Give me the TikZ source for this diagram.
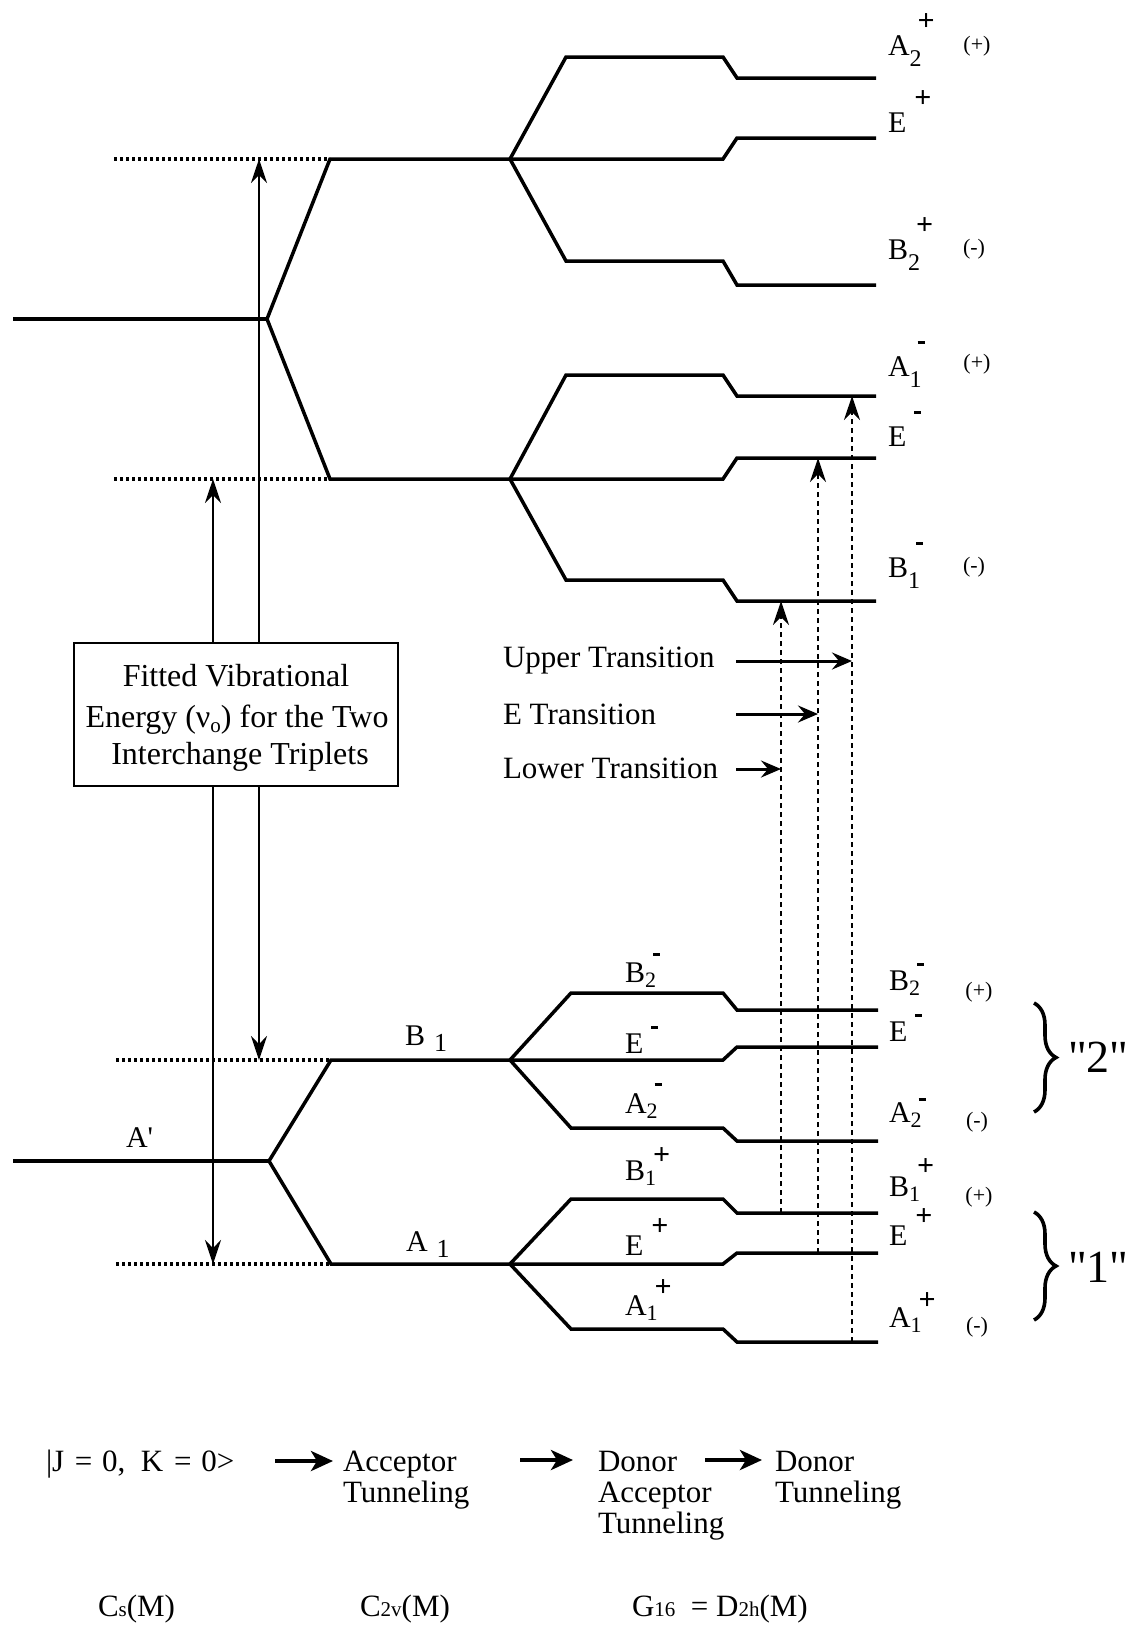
\documentclass[tikz,border=0pt]{standalone}
\usepackage{fontspec}
\setmainfont{Liberation Serif}[Ligatures=TeXOff]
\usetikzlibrary{arrows.meta,decorations.pathreplacing}
\newcommand{\lvT}[3]{#1\rlap{\raisebox{-11pt}{\fontsize{24}{24}\selectfont #2}}\hspace{8pt}#3}
\newcommand{\lvB}[3]{#1\rlap{\raisebox{-5pt}{\fontsize{22}{22}\selectfont #2}}\hspace{8pt}#3}
\newcommand{\upP}[1][19pt]{\raisebox{#1}{\textbf{+}}}
\newcommand{\upM}[1][24pt]{\rule[#1]{7pt}{2.8pt}}
\newcommand{\smx}[1]{{\fontsize{21}{21}\selectfont #1}}
\begin{document}
\begin{tikzpicture}[x=1pt,y=-1pt,
  every node/.style={inner sep=0pt,outer sep=0pt,font=\fontsize{30}{30}\selectfont},
  lvl/.style={line width=3.5pt},
  dots/.style={line width=3.5pt,dash pattern=on 3pt off 3pt},
  meas/.style={line width=1.5pt,{Stealth[length=24pt,width=16pt,inset=8pt]}-{Stealth[length=24pt,width=16pt,inset=8pt]}},
  trans/.style={line width=1.8pt,dash pattern=on 5.5pt off 3.5pt,-{Stealth[length=24pt,width=16pt,inset=8pt]}},
  ptr/.style={line width=3pt,-{Stealth[length=20pt,width=17pt,inset=7pt]}},
  flow/.style={line width=4pt,-{Stealth[length=22pt,width=20pt,inset=6pt]}},
  par/.style={font=\fontsize{22}{22}\selectfont,anchor=center},
  lab/.style={anchor=base west},
  big/.style={font=\fontsize{31}{31}\selectfont},
  boxt/.style={anchor=base,font=\fontsize{32}{32}\selectfont},
  brc/.style={line width=3.6pt,decorate,decoration={brace,amplitude=22pt}},
]
\useasboundingbox (0,0) rectangle (1134,1626);

% ---------- upper (excited) state ----------
\coordinate (gU) at (13,319);
\coordinate (sU) at (267,319);
\coordinate (bU1) at (510,159);
\coordinate (bU2) at (510,479);
\draw[dots] (114,159) -- (330,159);
\draw[dots] (114,479) -- (330,479);
\draw[lvl] (gU) -- (sU);
\draw[lvl] (876,138) -- (737,138) -- (723,159) -- (330,159) -- (sU) -- (330,479) -- (723,479) -- (737,458) -- (876,458);
\draw[lvl] (876,78) -- (737,78) -- (723,57) -- (566,57) -- (bU1) -- (566,261) -- (723,261) -- (737,285) -- (876,285);
\draw[lvl] (876,396) -- (737,396) -- (723,375) -- (566,375) -- (bU2) -- (566,580) -- (723,580) -- (737,601) -- (876,601);

% ---------- lower (ground) state ----------
\coordinate (gL) at (13,1161);
\coordinate (sL) at (269,1161);
\coordinate (bL1) at (510,1060);
\coordinate (bL2) at (510,1264);
\draw[dots] (116,1060) -- (331,1060);
\draw[dots] (116,1264) -- (331,1264);
\draw[lvl] (gL) -- (sL);
\draw[lvl] (878,1047) -- (737,1047) -- (723,1060) -- (331,1060) -- (sL) -- (331,1264) -- (723,1264) -- (737,1253) -- (878,1253);
\draw[lvl] (878,1010) -- (737,1010) -- (723,993) -- (571,993) -- (bL1) -- (571,1128) -- (723,1128) -- (737,1141) -- (878,1141);
\draw[lvl] (878,1213) -- (737,1213) -- (723,1199) -- (571,1199) -- (bL2) -- (571,1329) -- (723,1329) -- (737,1342) -- (878,1342);

% ---------- vibrational energy arrows ----------
\coordinate (m1a) at (259,159);
\coordinate (m1b) at (259,1060);
\coordinate (m2a) at (213,479);
\coordinate (m2b) at (213,1264);
\draw[meas] (m1a) -- (m1b);
\draw[meas] (m2a) -- (m2b);

\node[draw,line width=2.5pt,fill=white,minimum width=324pt,minimum height=143pt] (box) at (236,714.5) {};
\node[boxt] (bx1) at (236,686) {Fitted Vibrational};
\node[boxt] (bx2) at (237,727) {Energy (ν\raisebox{-5pt}{\fontsize{21}{21}\selectfont o}) for the Two};
\node[boxt] (bx3) at (240,764) {Interchange Triplets};

% ---------- transitions ----------
\coordinate (tLa) at (781,1213);
\coordinate (tLb) at (781,601);
\coordinate (tEa) at (818,1253);
\coordinate (tEb) at (818,458);
\coordinate (tUa) at (852,1342);
\coordinate (tUb) at (852,396);
\draw[trans] (tLa) -- (tLb);
\draw[trans] (tEa) -- (tEb);
\draw[trans] (tUa) -- (tUb);

\node[lab,big] (lU) at (503,667) {Upper Transition};
\node[lab,big] (lE) at (503,724) {E Transition};
\node[lab,big] (lL) at (503,778) {Lower Transition};
\coordinate (pU) at (736,661);
\coordinate (pE) at (736,714);
\coordinate (pL) at (736,769);
\draw[ptr] (pU) -- (pU -| tUa);
\draw[ptr] (pE) -- (pE -| tEa);
\draw[ptr] (pL) -- (pL -| tLa);

% ---------- top right labels ----------
\node[lab] (rA2p) at (888,55) {\lvT{A}{2}{\upP[25pt]}};
\node[lab] (rEp) at (888,132) {\lvT{E}{}{\upP[25pt]}};
\node[lab] (rB2p) at (888,259) {\lvT{B}{2}{\upP[25pt]}};
\node[lab] (rA1m) at (888,376) {\lvT{A}{1}{\upM[32pt]}};
\node[lab] (rEm) at (888,446) {\lvT{E}{}{\upM[32pt]}};
\node[lab] (rB1m) at (888,577) {\lvT{B}{1}{\upM[32pt]}};
\node[par] (qA2p) at (977,46) {(+)};
\node[par] (qB2p) at (974,249) {(-)};
\node[par] (qA1m) at (977,364) {(+)};
\node[par] (qB1m) at (974,567) {(-)};

% ---------- middle labels (lower state) ----------
\node[lab] (B1) at (405,1045) {B\hspace{9pt}\raisebox{-6pt}{\fontsize{26}{26}\selectfont 1}};
\node[lab] (A1) at (406,1251) {A\hspace{9pt}\raisebox{-6pt}{\fontsize{26}{26}\selectfont 1}};
\node[lab] (Ap) at (126,1147) {A'};
\node[lab] (mB2m) at (625,982) {\lvB{B}{2}{\upM[26pt]}};
\node[lab] (mEm) at (625,1053) {\lvB{E}{}{\upM}};
\node[lab] (mA2m) at (625,1113) {\lvB{A}{2}{\upM[27pt]}};
\node[lab] (mB1p) at (625,1180) {\lvB{B}{1}{\upP[16pt]}};
\node[lab] (mEp) at (625,1255) {\lvB{E}{}{\upP[20pt]}};
\node[lab] (mA1p) at (625,1315) {\lvB{A}{1}{\upP[19pt]}};

% ---------- bottom right labels ----------
\node[lab] (rB2m) at (889,990) {\lvB{B}{2}{\upM}};
\node[lab] (rEm2) at (889,1041) {\lvB{E}{}{\upM}};
\node[lab] (rA2m) at (889,1122) {\lvB{A}{2}{\upM[21pt]}};
\node[lab] (rB1p) at (889,1196) {\lvB{B}{1}{\upP[21pt]}};
\node[lab] (rEp2) at (889,1245) {\lvB{E}{}{\upP[20pt]}};
\node[lab] (rA1p) at (889,1327) {\lvB{A}{1}{\upP[18pt]}};
\node[par] (qB2m) at (979,992) {(+)};
\node[par] (qA2m) at (977,1122) {(-)};
\node[par] (qB1p) at (979,1197) {(+)};
\node[par] (qA1p) at (977,1327) {(-)};

\coordinate (br2a) at (1034,1003);
\coordinate (br2b) at (1034,1112);
\coordinate (br1a) at (1034,1212);
\coordinate (br1b) at (1034,1320);
\draw[brc] (br2a) -- (br2b);
\draw[brc] (br1a) -- (br1b);
\node[font=\fontsize{46}{46}\selectfont,anchor=west] (g2) at (1068,1057) {"2"};
\node[font=\fontsize{46}{46}\selectfont,anchor=west] (g1) at (1068,1267) {"1"};

% ---------- bottom: correlation ----------
\node[lab,big] (ket) at (46,1471) {|J\hspace{3pt} = \hspace{2pt}0,\ \ K\hspace{3pt} = \hspace{2pt}0>};
\node[lab,big] (ac1) at (343,1471) {Acceptor};
\node[lab,big] (ac2) at (343,1502) {Tunneling};
\node[lab,big] (da1) at (598,1471) {Donor};
\node[lab,big] (da2) at (598,1502) {Acceptor};
\node[lab,big] (da3) at (598,1533) {Tunneling};
\node[lab,big] (dn1) at (775,1471) {Donor};
\node[lab,big] (dn2) at (775,1502) {Tunneling};
\coordinate (f1a) at (275,1461);
\coordinate (f1b) at (333,1461);
\coordinate (f2a) at (520,1460);
\coordinate (f2b) at (573,1460);
\coordinate (f3a) at (705,1460);
\coordinate (f3b) at (762,1460);
\draw[flow] (f1a) -- (f1b);
\draw[flow] (f2a) -- (f2b);
\draw[flow] (f3a) -- (f3b);

\node[lab,big] (gCs) at (98,1616) {C\smx{s}(M)};
\node[lab,big] (gC2v) at (360,1616) {C\smx{2v}(M)};
\node[lab,big] (gG16) at (632,1616) {G\smx{16}\ \ = D\smx{2h}(M)};
\end{tikzpicture}
\end{document}
